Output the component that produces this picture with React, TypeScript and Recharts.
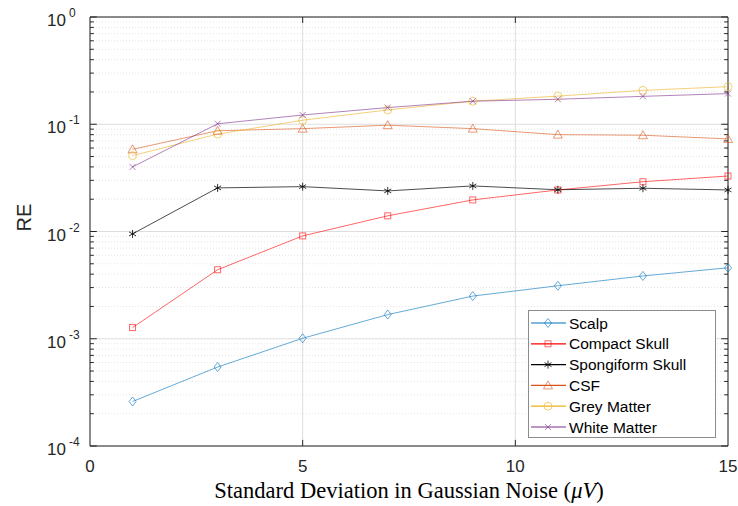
import React from "react";
import {
  CartesianGrid,
  Legend,
  Line,
  LineChart,
  ReferenceLine,
  XAxis,
  YAxis,
} from "recharts";

const noise = [1, 3, 5, 7, 9, 11, 13, 15];
const scalp = [2.6e-4, 5.45e-4, 1.01e-3, 1.68e-3, 2.5e-3, 3.12e-3, 3.85e-3, 4.59e-3];
const compactSkull = [1.27e-3, 4.4e-3, 9.1e-3, 1.4e-2, 1.97e-2, 2.44e-2, 2.91e-2, 3.29e-2];
const spongiformSkull = [9.5e-3, 2.55e-2, 2.62e-2, 2.39e-2, 2.66e-2, 2.45e-2, 2.53e-2, 2.44e-2];
const csf = [5.84e-2, 8.7e-2, 9.1e-2, 9.8e-2, 9.1e-2, 8.0e-2, 7.9e-2, 7.3e-2];
const greyMatter = [5.1e-2, 8.1e-2, 0.109, 0.136, 0.164, 0.183, 0.207, 0.224];
const whiteMatter = [4.0e-2, 0.101, 0.122, 0.143, 0.164, 0.171, 0.182, 0.193];

const xTicks = [0, 5, 10, 15];
const yTicks = [1e-4, 1e-3, 1e-2, 1e-1, 1];

type Marker = "diamond" | "square" | "asterisk" | "triangle" | "circle" | "cross";

const series: { key: string; name: string; color: string; marker: Marker }[] = [
  { key: "scalp", name: "Scalp", color: "#0072BD", marker: "diamond" },
  { key: "compact", name: "Compact Skull", color: "#FF0000", marker: "square" },
  { key: "spongiform", name: "Spongiform Skull", color: "#000000", marker: "asterisk" },
  { key: "csf", name: "CSF", color: "#D95319", marker: "triangle" },
  { key: "grey", name: "Grey Matter", color: "#EDB120", marker: "circle" },
  { key: "white", name: "White Matter", color: "#7E2F8E", marker: "cross" },
];

const data = noise.map((x, i) => ({
  x,
  scalp: scalp[i],
  compact: compactSkull[i],
  spongiform: spongiformSkull[i],
  csf: csf[i],
  grey: greyMatter[i],
  white: whiteMatter[i],
}));

// minor log grid values between decades
const minorY: number[] = [];
for (let d = -4; d < 0; d++) {
  for (let m = 2; m <= 9; m++) minorY.push(m * Math.pow(10, d));
}

const AXIS = "#262626";
const FADE = 0.6;
const SANS = "Liberation Sans, Arial, sans-serif";

function drawMarker(kind: Marker, cx: number, cy: number, color: string, k?: string) {
  const s = 3.5;
  const common = { fill: "none", stroke: color, strokeOpacity: FADE, strokeWidth: 1 };
  switch (kind) {
    case "diamond":
      return <path key={k} d={`M${cx},${cy - s - 1}L${cx + s},${cy}L${cx},${cy + s + 1}L${cx - s},${cy}Z`} {...common} />;
    case "square":
      return <rect key={k} x={cx - 3} y={cy - 3} width={6} height={6} {...common} />;
    case "triangle":
      return <path key={k} d={`M${cx},${cy - 4.5}L${cx + 4.5},${cy + 3.5}L${cx - 4.5},${cy + 3.5}Z`} {...common} />;
    case "circle":
      return <circle key={k} cx={cx} cy={cy} r={4} {...common} />;
    case "cross":
      return (
        <path key={k} d={`M${cx - 3},${cy - 3}L${cx + 3},${cy + 3}M${cx - 3},${cy + 3}L${cx + 3},${cy - 3}`} {...common} />
      );
    case "asterisk":
      return (
        <path
          key={k}
          d={`M${cx},${cy - 4}L${cx},${cy + 4}M${cx - 3.5},${cy - 2}L${cx + 3.5},${cy + 2}M${cx - 3.5},${cy + 2}L${cx + 3.5},${cy - 2}`}
          {...common}
          strokeOpacity={0.8}
        />
      );
  }
}

const YTick = (props: any) => {
  const { y, payload } = props;
  const e = Math.round(Math.log10(payload.value));
  return (
    <text x={47} y={y + 9} fill={AXIS} fontSize={17} fontFamily={SANS}>
      10
      <tspan dx={3} dy={-9} fontSize={12}>
        {e}
      </tspan>
    </text>
  );
};

const XLabel = (props: any) => {
  const vb = props.viewBox;
  const cx = vb.x + vb.width / 2;
  return (
    <text
      x={cx}
      y={498}
      textAnchor="middle"
      fill="#000"
      fontSize={22.5}
      fontFamily="Liberation Serif, Times New Roman, serif"
    >
      Standard Deviation in Gaussian Noise (<tspan fontStyle="italic">{"\u03bcV"}</tspan>)
    </text>
  );
};

const LegendBox = () => (
  <svg width={188} height={128} style={{ display: "block" }}>
    <rect x={0.5} y={0.5} width={187} height={127} fill="#fff" stroke="#8c8c8c" strokeWidth={1} />
    {series.map((s, i) => {
      const y = 13 + i * 20.8;
      return (
        <g key={s.key}>
          <line x1={3} x2={38} y1={y} y2={y} stroke={s.color} strokeWidth={1.2} />
          {drawMarker(s.marker, 20, y, s.color)}
          <text x={41} y={y + 5.5} fontSize={15.5} fill="#000" fontFamily={SANS}>
            {s.name}
          </text>
        </g>
      );
    })}
  </svg>
);

export default function App() {
  return (
    <div style={{ position: "absolute", left: 0, top: 0, background: "#fff" }}>
      <LineChart width={738} height={506} data={data} margin={{ top: 17, right: 10, left: 0, bottom: 0 }}>
        <CartesianGrid stroke="#dedede" strokeWidth={1} />
        {minorY.map((v) => (
          <ReferenceLine key={`g${v}`} y={v} stroke="#e4e4e4" strokeDasharray="1 2" />
        ))}
        <XAxis
          type="number"
          dataKey="x"
          domain={[0, 15]}
          ticks={xTicks}
          tickLine={false}
          axisLine={{ stroke: AXIS }}
          height={60}
          tick={{ fill: AXIS, fontSize: 17, fontFamily: SANS }}
          tickMargin={8}
          label={<XLabel />}
        />
        <YAxis
          scale="log"
          domain={[1e-4, 1]}
          ticks={yTicks}
          allowDataOverflow
          width={90}
          tickLine={false}
          axisLine={{ stroke: AXIS }}
          tick={<YTick />}
          label={{
            value: "RE",
            angle: -90,
            position: "insideLeft",
            offset: 24,
            fill: AXIS,
            fontSize: 20,
            fontFamily: SANS,
          }}
        />
        <ReferenceLine y={1} stroke={AXIS} />
        <ReferenceLine x={15} stroke={AXIS} />
        {yTicks.map((v) => (
          <ReferenceLine key={`ml${v}`} segment={[{ x: 0, y: v }, { x: 0.16, y: v }]} stroke={AXIS} />
        ))}
        {yTicks.map((v) => (
          <ReferenceLine key={`mr${v}`} segment={[{ x: 15, y: v }, { x: 14.84, y: v }]} stroke={AXIS} />
        ))}
        {minorY.map((v) => (
          <ReferenceLine key={`nl${v}`} segment={[{ x: 0, y: v }, { x: 0.09, y: v }]} stroke={AXIS} />
        ))}
        {minorY.map((v) => (
          <ReferenceLine key={`nr${v}`} segment={[{ x: 15, y: v }, { x: 14.91, y: v }]} stroke={AXIS} />
        ))}
        {xTicks.slice(1, 3).map((v) => (
          <ReferenceLine key={`xb${v}`} segment={[{ x: v, y: 1e-4 }, { x: v, y: 1.14e-4 }]} stroke={AXIS} />
        ))}
        {xTicks.slice(1, 3).map((v) => (
          <ReferenceLine key={`xt${v}`} segment={[{ x: v, y: 1 }, { x: v, y: 0.88 }]} stroke={AXIS} />
        ))}
        {series.map((s) => (
          <Line
            key={s.key}
            dataKey={s.key}
            name={s.name}
            type="linear"
            stroke={s.color}
            strokeOpacity={s.key === "spongiform" ? 0.7 : FADE}
            strokeWidth={1}
            isAnimationActive={false}
            dot={(p: any) => drawMarker(s.marker, p.cx, p.cy, s.color, `${s.key}-${p.index}`)}
            activeDot={false}
          />
        ))}
        <Legend
          layout="vertical"
          align="center"
          verticalAlign="middle"
          wrapperStyle={{ left: 528, top: 310, width: 188, height: 128 }}
          content={<LegendBox />}
        />
      </LineChart>
    </div>
  );
}
